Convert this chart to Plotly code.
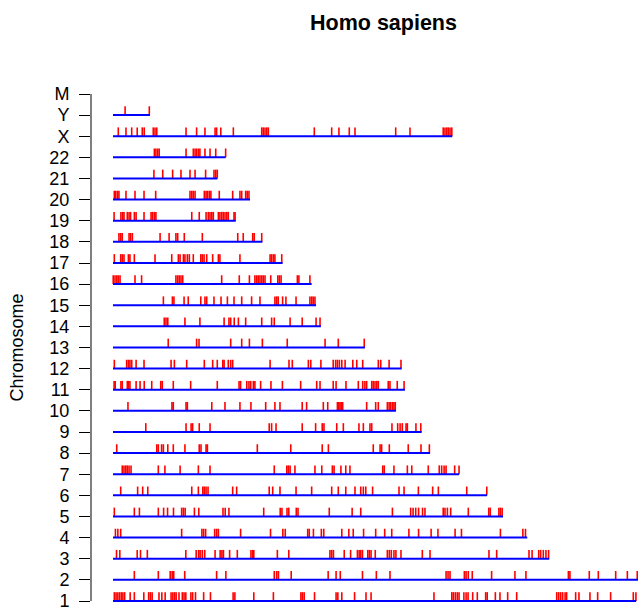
import plotly.graph_objects as go

# Chromosome names, bottom to top
chromosomes = [str(i) for i in range(1, 23)] + ["X", "Y", "M"]

# Gene positions along each chromosome (Mb)
chr1_genes = [0.6, 1.4, 2.2, 3.0, 3.8, 4.5, 5.3, 7.8, 9.7, 14.0, 16.2, 17.0, 17.8, 20.9, 22.2,
              23.7, 26.4, 27.2, 28.0, 28.7, 30.0, 31.5, 32.3, 33.1, 35.4, 36.2, 37.5, 41.2, 44.3,
              54.6, 55.4, 64.0, 72.9, 85.4, 86.1, 86.9, 91.6, 101.4, 102.2, 104.0, 109.8, 115.0,
              117.3, 145.9, 154.0, 154.7, 155.6, 156.5, 157.3, 159.5, 160.5, 161.4, 163.5, 165.6,
              169.4, 170.1, 173.8, 175.9, 179.4, 183.5, 201.7, 202.6, 203.5, 204.4, 205.5, 206.2,
              210.3, 211.8, 216.8, 220.3, 226.2, 236.5, 237.7]
chr2_genes = [9.7, 20.6, 26.0, 26.9, 27.6, 32.6, 47.1, 51.3, 73.3, 74.4, 75.2, 81.0, 97.8, 101.4,
              103.3, 113.4, 119.7, 125.9, 151.4, 152.3, 153.2, 159.7, 160.5, 161.5, 163.3, 172.1,
              182.7, 187.7, 207.0, 207.7, 216.5, 220.6, 228.5, 233.8, 238.3]
chr3_genes = [1.6, 3.1, 11.0, 12.5, 15.6, 33.1, 37.8, 38.9, 39.6, 40.6, 41.7, 46.4, 48.7, 49.5,
              50.2, 53.0, 56.5, 62.7, 63.5, 64.0, 74.7, 79.9, 98.6, 99.4, 100.2, 105.1, 108.0,
              111.1, 111.9, 112.6, 113.4, 115.8, 116.5, 117.3, 119.2, 124.7, 125.6, 126.5, 127.7,
              128.6, 130.9, 140.6, 144.1, 170.9, 174.4, 189.1, 190.5, 193.5, 194.4, 195.6, 196.8,
              198.0]
chr4_genes = [1.1, 2.2, 3.5, 31.2, 40.4, 41.2, 42.1, 46.2, 47.1, 47.9, 58.0, 71.6, 77.2, 78.3,
              88.5, 89.2, 91.1, 94.7, 95.8, 104.0, 107.2, 109.2, 113.9, 119.4, 123.5, 126.7,
              134.5, 138.9, 144.6, 147.7, 155.5, 158.4, 176.1, 186.3, 187.5]
chr5_genes = [0.6, 9.7, 12.0, 20.6, 23.0, 24.8, 27.5, 31.2, 32.0, 32.8, 37.0, 39.0, 50.0, 51.0,
              52.7, 68.5, 76.0, 76.8, 79.1, 79.9, 83.3, 84.1, 98.3, 108.7, 112.6, 127.0, 135.3,
              136.4, 137.6, 138.9, 140.7, 141.8, 150.1, 150.9, 152.0, 153.5, 161.5, 170.8, 171.5,
              175.4, 176.1, 176.9]
chr6_genes = [3.5, 11.2, 13.5, 15.8, 35.8, 38.8, 40.8, 41.5, 42.3, 43.2, 54.4, 56.2, 71.0, 72.6,
              75.9, 83.2, 90.3, 99.4, 102.4, 105.8, 110.0, 112.6, 113.8, 114.9, 118.0, 130.0,
              132.3, 138.8, 145.3, 147.9, 160.8, 169.9]
chr7_genes = [4.2, 5.0, 5.8, 6.5, 7.3, 8.2, 20.6, 23.6, 30.5, 38.8, 44.1, 73.3, 79.0, 79.7, 80.5,
              82.7, 91.8, 94.9, 99.7, 100.5, 103.6, 105.8, 107.7, 122.6, 123.3, 127.7, 133.8,
              135.8, 143.3, 148.3, 149.4, 150.5, 151.4, 155.3, 157.3]
chr8_genes = [1.7, 19.9, 20.6, 22.1, 22.9, 24.9, 27.4, 32.7, 39.2, 40.0, 42.3, 42.9, 65.6, 80.8,
              95.1, 97.9, 118.3, 121.4, 122.1, 125.6, 134.2, 140.0, 143.8]
chr9_genes = [14.9, 33.2, 35.5, 36.2, 39.2, 44.1, 71.0, 72.1, 74.1, 86.0, 92.1, 95.1, 95.9, 101.7,
              104.7, 111.8, 113.8, 116.8, 117.6, 126.8, 129.4, 130.5, 131.5, 133.2, 133.8, 137.7,
              139.9]
chr10_genes = [6.8, 26.8, 27.4, 33.2, 33.8, 44.9, 50.9, 57.7, 62.7, 69.4, 73.6, 75.9, 86.0, 88.0,
               95.6, 97.6, 102.0, 102.6, 103.2, 103.8, 104.4, 115.3, 119.4, 120.6, 124.7, 125.5,
               126.2, 127.0, 127.7, 128.3]
chr11_genes = [0.5, 1.0, 3.6, 4.2, 6.5, 7.1, 7.7, 10.5, 12.3, 14.2, 17.6, 21.7, 22.4, 27.4, 35.3,
               47.4, 57.3, 58.0, 60.8, 61.8, 62.6, 63.8, 64.5, 67.1, 71.8, 77.0, 85.3, 92.6, 94.1,
               100.1, 101.4, 105.9, 111.5, 113.5, 114.5, 115.3, 117.6, 118.3, 119.1, 119.9, 120.6,
               125.1, 125.9, 129.2, 132.3]
chr12_genes = [0.6, 6.2, 7.0, 7.7, 8.5, 10.5, 14.1, 26.4, 27.9, 33.5, 41.5, 45.3, 47.4, 49.9,
               50.5, 52.4, 53.5, 54.4, 71.4, 80.0, 81.5, 88.8, 89.9, 94.5, 100.1, 101.2, 102.0,
               102.9, 104.0, 105.5, 109.0, 110.8, 113.5, 120.6, 121.7, 125.5, 130.9]
chr13_genes = [25.1, 38.0, 39.1, 53.5, 58.5, 62.0, 67.9, 79.2, 96.4, 102.4, 114.2]
chr14_genes = [23.3, 24.1, 24.9, 32.7, 39.5, 50.5, 52.7, 53.5, 55.1, 57.0, 60.3, 67.6, 72.1, 73.3,
               80.5, 86.0, 92.3, 94.1]
chr15_genes = [22.9, 27.0, 27.7, 32.3, 34.2, 39.9, 41.8, 42.6, 45.9, 49.1, 52.0, 55.0, 58.5, 63.0,
               66.8, 73.6, 74.4, 75.1, 77.1, 78.6, 83.2, 89.5, 90.3, 91.0, 91.8]
chr16_genes = [0.1, 0.9, 1.7, 2.4, 3.2, 10.0, 13.0, 28.6, 29.4, 30.1, 30.9, 31.7, 49.4, 57.4,
               62.0, 64.5, 65.3, 66.0, 66.8, 67.6, 68.3, 69.1, 71.7, 74.9, 75.6, 76.4, 83.8, 84.5,
               89.5]
chr17_genes = [0.6, 3.5, 4.2, 5.0, 7.0, 7.7, 9.7, 19.1, 26.7, 29.7, 30.5, 32.0, 32.7, 33.8, 34.7,
               36.5, 39.9, 40.6, 41.4, 42.6, 45.3, 47.9, 48.6, 57.7, 71.4, 72.1, 72.9, 73.6, 76.7]
chr18_genes = [2.7, 3.5, 4.2, 7.3, 8.0, 8.8, 21.4, 25.5, 28.6, 29.4, 32.4, 40.6, 56.7, 59.2, 63.5,
               64.2, 67.6]
chr19_genes = [0.5, 3.6, 4.4, 5.0, 6.5, 7.3, 8.0, 9.7, 10.5, 14.1, 17.3, 18.0, 18.8, 19.5, 35.8,
               39.2, 42.3, 43.3, 44.1, 44.9, 45.6, 47.9, 48.6, 49.4, 50.1, 50.9, 51.7, 52.4, 55.0,
               55.5]
chr20_genes = [0.6, 1.2, 2.0, 2.7, 5.9, 10.0, 14.1, 19.4, 35.0, 35.8, 36.5, 37.3, 41.5, 42.3,
               43.0, 43.8, 44.5, 48.3, 54.4, 57.7, 58.5, 60.3, 61.0, 61.8]
chr21_genes = [18.6, 22.6, 27.1, 30.9, 35.0, 37.3, 42.1, 45.9, 46.7, 47.4]
chr22_genes = [18.8, 19.5, 20.3, 21.0, 33.2, 36.5, 37.3, 38.0, 38.8, 39.5, 41.8, 44.1, 46.7, 51.2]
chrX_genes = [2.4, 5.9, 8.5, 11.0, 13.3, 14.2, 18.3, 19.1, 19.9, 33.2, 38.0, 41.8, 46.4, 47.1,
              49.0, 54.7, 67.6, 68.3, 69.1, 69.9, 70.6, 91.5, 99.4, 102.7, 107.4, 110.0, 128.5,
              135.0, 150.1, 150.9, 151.7, 152.4, 153.2, 154.0]
chrY_genes = [5.5, 16.5]
chrM_genes = []

# Extent of each chromosome line (Mb), same order as chromosomes
chr_ends = [237.8, 242.5, 198.3, 188.3, 177.3, 170.0, 157.3, 144.1, 140.3, 128.6, 132.7, 131.2,
            114.5, 94.5, 92.3, 90.3, 77.1, 67.9, 55.8, 62.3, 47.4, 51.2, 154.2, 16.8, None]

gene_lists = [chr1_genes, chr2_genes, chr3_genes, chr4_genes, chr5_genes, chr6_genes,
              chr7_genes, chr8_genes, chr9_genes, chr10_genes, chr11_genes, chr12_genes,
              chr13_genes, chr14_genes, chr15_genes, chr16_genes, chr17_genes, chr18_genes,
              chr19_genes, chr20_genes, chr21_genes, chr22_genes, chrX_genes, chrY_genes,
              chrM_genes]

MARK_H = 0.42  # height of a gene mark, in chromosome-row units

# Red gene marks: vertical segments above each chromosome line
mx, my = [], []
for row, genes in enumerate(gene_lists, start=1):
    for g in genes:
        mx += [g, g, None]
        my += [row, row + MARK_H, None]

# Blue chromosome lines
lx, ly = [], []
for row, end in enumerate(chr_ends, start=1):
    if end is None:
        continue
    lx += [0, end, None]
    ly += [row, row, None]

fig = go.Figure()
fig.add_trace(go.Scatter(x=mx, y=my, mode="lines",
                         line=dict(color="#ff0000", width=1.6),
                         hoverinfo="skip", showlegend=False))
fig.add_trace(go.Scatter(x=lx, y=ly, mode="lines",
                         line=dict(color="#0000ff", width=2),
                         hoverinfo="skip", showlegend=False))

FONT = "Liberation Sans, Arial, sans-serif"

fig.update_layout(
    width=638, height=609,
    margin=dict(l=91, r=0, t=70, b=0),
    paper_bgcolor="white", plot_bgcolor="white",
    showlegend=False,
    font=dict(family=FONT, color="black", size=18),
    xaxis=dict(range=[-10, 238.64], visible=False, fixedrange=True, automargin=False),
    yaxis=dict(range=[0.6213, 26.136],
               tickmode="array",
               tickvals=list(range(1, len(chromosomes) + 1)),
               ticktext=chromosomes,
               ticks="outside", ticklen=11, tickwidth=1, tickcolor="black",
               ticklabelstandoff=6,
               ticklabeloverflow="allow",
               automargin=False,
               tickfont=dict(size=18, family=FONT, color="black"),
               showgrid=False, zeroline=False, showline=False),
    shapes=[dict(type="line", xref="paper", yref="y", x0=0, x1=0, y0=1, y1=25,
                 line=dict(color="black", width=1))],
    annotations=[
        dict(text="Homo sapiens", xref="paper", yref="paper",
             x=0.5347, y=1.0872, xanchor="center", yanchor="middle", showarrow=False,
             font=dict(size=21.5, family=FONT, color="black", weight="bold")),
        dict(text="Chromosome", xref="paper", yref="paper",
             x=-0.1353, y=0.4852, xanchor="center", yanchor="middle", showarrow=False,
             textangle=-90, font=dict(size=18, family=FONT, color="black")),
    ],
)

fig.write_html("out.html")
